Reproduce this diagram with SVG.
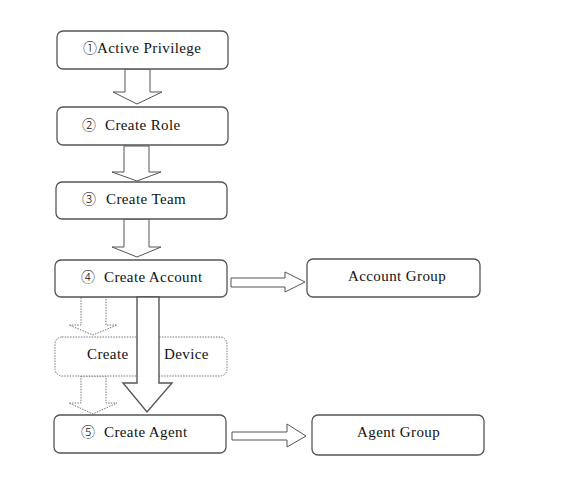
<svg xmlns="http://www.w3.org/2000/svg" width="581" height="487" viewBox="0 0 581 487">
<style>
.box{fill:#fff;stroke:#555;stroke-width:1.3}
.dot{fill:#fff;stroke:#777;stroke-width:1;stroke-dasharray:1.5 1.2}
.arr{fill:#fff;stroke:#555;stroke-width:1}
.big{fill:#fff;stroke:#555;stroke-width:1.4}
.darr{fill:#fff;stroke:#777;stroke-width:1;stroke-dasharray:1.5 1.2}
.t{font-family:'Liberation Serif','Times New Roman',serif;font-size:15px;letter-spacing:0.4px;fill:#111}
.num{font-family:'Noto Sans CJK JP','DejaVu Sans',sans-serif;font-size:14px;font-weight:300;fill:#111}
</style>
<rect width="581" height="487" fill="#fff"/>
<g id="connectors">
<polygon class="arr" points="125,69 150,69 150,92 162,92 137,104 113,92 125,92"/>
<polygon class="arr" points="124,146 149,146 149,172 161,172 137,181 112,172 124,172"/>
<polygon class="arr" points="124,219 149,219 149,247 161,247 137,257 112,247 124,247"/>
<polygon class="darr" points="81,297 106,297 106,325 117,325 93,335 69,325 81,325"/>
<polygon class="darr" points="81,376 106,376 106,403 117,403 93,414 69,403 81,403"/>
<polygon class="arr" points="231,278 285,278 285,272 305,282 285,292 285,287 231,287"/>
<polygon class="arr" points="232,432 287,432 287,424 306,436 287,447 287,440 232,440"/>
</g>
<g id="n1"><rect class="box" x="57" y="31" width="171" height="38" rx="6"/><text class="num" x="83" y="53">①</text><text class="t" x="97" y="53">Active Privilege</text></g>
<g id="n2"><rect class="box" x="57" y="107" width="171" height="38" rx="6"/><text class="num" x="82" y="130">②</text><text class="t" x="105" y="130">Create Role</text></g>
<g id="n3"><rect class="box" x="56" y="182" width="171" height="37" rx="6"/><text class="num" x="82" y="204">③</text><text class="t" x="106" y="204">Create Team</text></g>
<g id="n4"><rect class="box" x="55" y="260" width="172" height="37" rx="6"/><text class="num" x="81" y="282">④</text><text class="t" x="104" y="282">Create Account</text></g>
<g id="n6"><rect class="dot" x="55" y="337" width="172" height="39" rx="7"/><text class="t" x="87" y="359">Create</text><text class="t" x="164" y="359">Device</text></g>
<g id="bigarrow"><polygon class="big" points="137,297 159,297 159,383 172,383 147,412 123,383 137,383"/></g>
<g id="n5"><rect class="box" x="54" y="415" width="172" height="38" rx="6"/><text class="num" x="81" y="437">⑤</text><text class="t" x="104" y="437">Create Agent</text></g>
<g id="n7"><rect class="box" x="307" y="259" width="173" height="38" rx="6"/><text class="t" x="348" y="281">Account Group</text></g>
<g id="n8"><rect class="box" x="312" y="415" width="172" height="40" rx="6"/><text class="t" x="357" y="437">Agent Group</text></g>
</svg>
